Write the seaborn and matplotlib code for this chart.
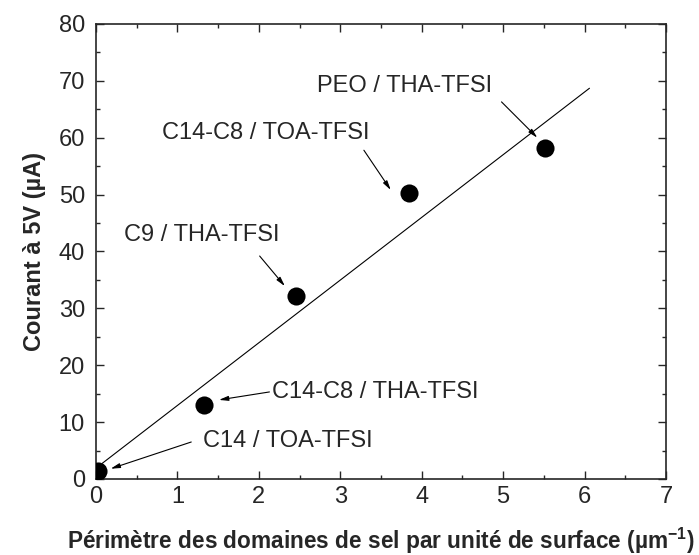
import numpy as np
import pandas as pd
import matplotlib
matplotlib.use("Agg")
import matplotlib.pyplot as plt
import seaborn as sns

# values
perimetre = [0.03, 1.33, 2.46, 3.84, 5.52]
courant = [1.4, 13.0, 32.2, 50.3, 58.2]
fit_x = [0.0, 6.06]
fit_y = [1.9, 68.7]

labels = ["C14 / TOA-TFSI", "C14-C8 / THA-TFSI", "C9 / THA-TFSI",
          "C14-C8 / TOA-TFSI", "PEO / THA-TFSI"]
label_pos = [(2.36, 6.6), (3.43, 15.3), (1.30, 42.9), (2.08, 60.8), (3.79, 69.1)]
arrow_from = [(1.17, 6.5), (2.13, 15.3), (2.01, 39.2), (3.29, 57.8), (4.98, 66.3)]
arrow_to = [(0.18, 1.8), (1.51, 13.9), (2.32, 33.9), (3.62, 50.8), (5.42, 60.0)]

df = pd.DataFrame({"x": perimetre, "y": courant})

sns.set_style("ticks")
plt.rcParams["font.family"] = ["Liberation Sans", "DejaVu Sans"]
plt.rcParams["mathtext.fontset"] = "custom"
plt.rcParams["mathtext.rm"] = "Liberation Sans"
plt.rcParams["mathtext.bf"] = "Liberation Sans:bold"

fig = plt.figure(figsize=(6.99, 5.55), dpi=100)
ax = fig.add_axes([0.1373, 0.137, 0.8155, 0.8198])

sns.lineplot(x=fit_x, y=fit_y, ax=ax, color="black", linewidth=0.8)
sns.scatterplot(data=df, x="x", y="y", ax=ax, color="black", s=170,
                edgecolor="black", linewidth=0, zorder=3)

for lab, p, a, b in zip(labels, label_pos, arrow_from, arrow_to):
    ax.text(p[0], p[1], lab, ha="center", va="center", fontsize=17)
    ax.annotate("", xy=b, xytext=a,
                arrowprops=dict(arrowstyle="-|>,head_length=0.55,head_width=0.14",
                                color="black", lw=0.8, shrinkA=0, shrinkB=0))

ax.set_xlim(0, 7)
ax.set_ylim(0, 80)
ax.set_xticks(np.arange(0, 8, 1))
ax.set_yticks(np.arange(0, 90, 10))
ax.set_xticks(np.arange(0.5, 7, 1), minor=True)
ax.set_yticks(np.arange(5, 80, 10), minor=True)
ax.tick_params(which="both", direction="in", top=True, right=True,
               labelsize=17, width=1)
ax.tick_params(axis="x", pad=5)
ax.tick_params(axis="y", pad=8)
ax.tick_params(which="major", length=6)
ax.tick_params(which="minor", length=3)
for s in ax.spines.values():
    s.set_linewidth(1.2)
    s.set_visible(True)

ax.set_xlabel(r"Périmètre des domaines de sel par unité de surface (µm$^{\mathbf{-1}}$)",
              fontsize=16.3, fontweight="bold", labelpad=13)
ax.set_ylabel("Courant à 5V (µA)", fontsize=17, fontweight="bold", labelpad=9)

fig.savefig("out.png", dpi=100)
